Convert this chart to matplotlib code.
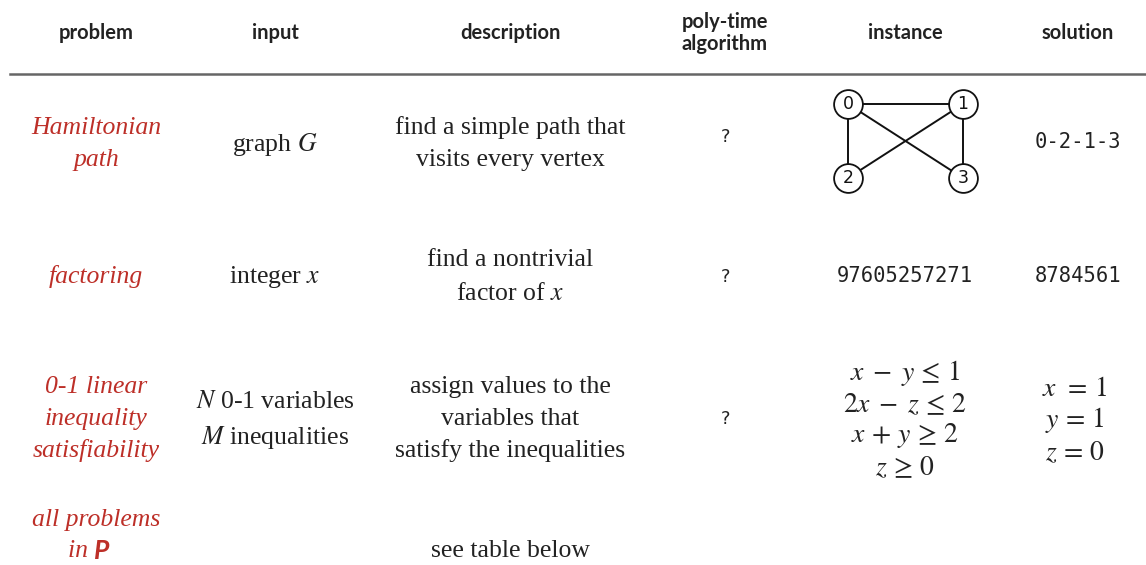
import matplotlib
matplotlib.use("Agg")
import matplotlib.pyplot as plt

W, H = 1146, 565
plt.rcParams['mathtext.fontset'] = 'stix'

RED = '#bd2f28'
DARK = '#222222'

headers = ["problem", "input", "description", "poly-time\nalgorithm", "instance", "solution"]
col_x = [96, 275, 510, 725, 905, 1078]

problems = [["Hamiltonian", "path"], ["factoring"],
            ["0-1 linear", "inequality", "satisfiability"]]
inputs = [[r"graph $G$"], [r"integer $x$"], [r"$N$ 0-1 variables", r"$M$ inequalities"]]
descriptions = [["find a simple path that", "visits every vertex"],
                ["find a nontrivial", r"factor of $x$"],
                ["assign values to the", "variables that", "satisfy the inequalities"]]
polytime = ["?", "?", "?"]
instances_mono = [None, "97605257271", None]
instances_math = [None, None, [r"$x\;-\;y\, \leq\, 1$", r"$2x\;-\;z\, \leq\, 2$",
                               r"$x\, +\, y\, \geq\, 2$", r"$z\, \geq\, 0$"]]
solutions_mono = ["0-2-1-3", "8784561", None]
solutions_math = [None, None, [r"$x\;\, =\, 1$", r"$y\, =\, 1$", r"$z\, =\, 0$"]]

graph_nodes = ["0", "1", "2", "3"]
graph_x = [0, 1, 0, 1]
graph_y = [1, 1, 0, 0]
graph_edges = [(0, 1), (0, 2), (0, 3), (1, 2), (1, 3)]

row_y = [144, 277, 419]
line_gap = [32, 34, 32]

fig = plt.figure(figsize=(W / 100, H / 100), dpi=100)

def T(x, y, s, **kw):
    fig.text(x / W, 1 - y / H, s, ha='center', va='center', **kw)

serif = dict(family='Liberation Serif', fontsize=18.5, color=DARK)
red_it = dict(family='Liberation Serif', fontsize=18.5, color=RED, style='italic')
mono = dict(family='DejaVu Sans Mono', fontsize=14.8, color=DARK)

# headers
for x, h in zip(col_x, headers):
    T(x, 33, h, family='Lato', fontweight='bold', fontsize=14.5, color=DARK,
      linespacing=1.1)

# header rule
fig.add_artist(plt.Line2D([10 / W, 1.0], [1 - 74 / H, 1 - 74 / H],
                          color='#666666', lw=1.8))

def stack(x, yc, lines, gap, **kw):
    n = len(lines)
    for i, s in enumerate(lines):
        T(x, yc + (i - (n - 1) / 2) * gap, s, **kw)

for r in range(3):
    yc = row_y[r]
    g = line_gap[r]
    stack(col_x[0], yc, problems[r], g, **red_it)
    stack(col_x[1], yc + (1 if r == 2 else 0), inputs[r], 35, **serif)
    stack(col_x[2], yc, descriptions[r], g, **serif)
    T(col_x[3], yc - 7 if r == 0 else yc, polytime[r], family='DejaVu Sans',
      fontsize=13, color=DARK)
    if instances_mono[r]:
        T(col_x[4], yc - 1, instances_mono[r], **mono)
    if instances_math[r]:
        stack(col_x[4], yc + 1, instances_math[r], 31.5, fontsize=20, color=DARK)
    if solutions_mono[r]:
        T(col_x[5], yc - 2 if r == 0 else yc - 1, solutions_mono[r], **mono)
    if solutions_math[r]:
        stack(col_x[5] - 3, yc + 1, solutions_math[r], 32, fontsize=20, color=DARK)

# last row
T(col_x[0], 520, "all problems", **red_it)
fig.text((col_x[0] - 2) / W, 1 - 551 / H, "in ", ha='right', va='center', **red_it)
fig.text((col_x[0] - 2) / W, 1 - 551 / H, "P", ha='left', va='center',
         family='Lato', fontweight='bold', style='italic', fontsize=19, color=RED)
T(col_x[2], 551, "see table below", **serif)

# graph instance
ax = fig.add_axes([828 / W, 1 - 196 / H, 155 / W, 110 / H])
ax.set_xlim(-20 / 115, 135 / 115)
ax.set_ylim(1 - 92 / 74, 1 + 18 / 74)
ax.axis('off')
for a, b in graph_edges:
    ax.plot([graph_x[a], graph_x[b]], [graph_y[a], graph_y[b]], color='#111111',
            lw=1.4, zorder=1)
ax.scatter(graph_x, graph_y, s=430, facecolor='white', edgecolor='#111111',
           linewidth=1.3, zorder=2)
for lbl, x, y in zip(graph_nodes, graph_x, graph_y):
    ax.text(x, y, lbl, ha='center', va='center', family='DejaVu Sans',
            fontsize=12.5, color='#111111', zorder=3)

fig.savefig("out.png", dpi=100)
